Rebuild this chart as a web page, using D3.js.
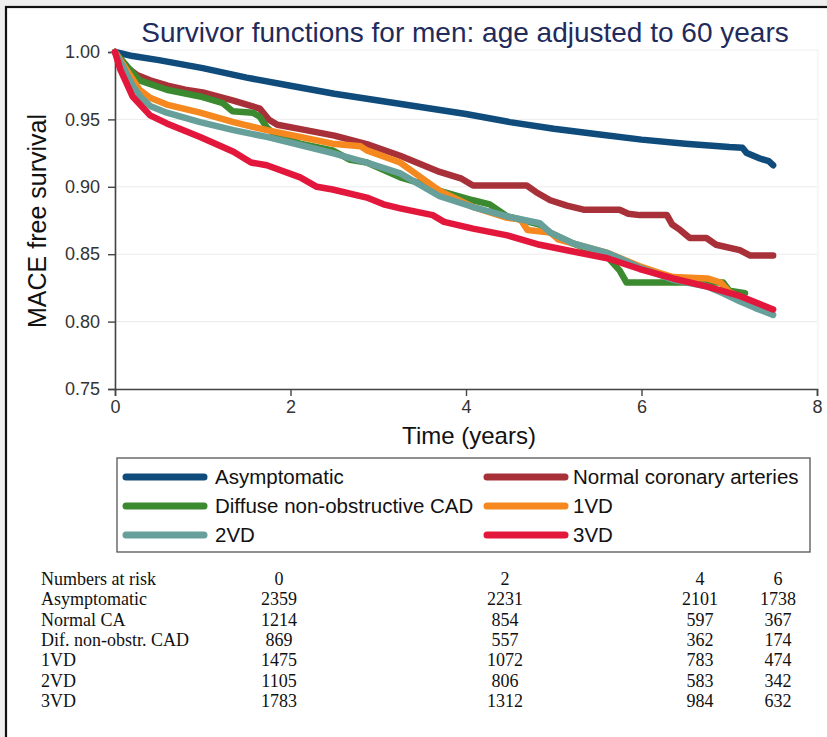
<!DOCTYPE html>
<html><head><meta charset="utf-8">
<script src="https://cdn.jsdelivr.net/npm/d3@7"></script>
<style>
html,body{margin:0;padding:0;background:#efefef;}
svg{display:block;}
</style></head>
<body>
<svg id="chart" width="827" height="737"></svg>
<script>
// ---------- DATA ----------
const title = "Survivor functions for men: age adjusted to 60 years";
const yTicks = [0.75, 0.80, 0.85, 0.90, 0.95, 1.00];
const xTicks = [0, 2, 4, 6, 8];

const seriesNames = ["Asymptomatic", "Normal coronary arteries", "Diffuse non-obstructive CAD", "1VD", "2VD", "3VD"];
const seriesColors = ["#0f4c7c", "#a83038", "#3b8a30", "#f5891f", "#67a09a", "#e3173c"];

const asymptomatic = [[0,1.0],[0.2,0.997],[0.5,0.994],[1.0,0.988],[1.5,0.981],[2.0,0.975],[2.5,0.969],[3.0,0.964],[3.5,0.959],[4.0,0.954],[4.5,0.948],[5.0,0.943],[5.5,0.939],[6.0,0.935],[6.5,0.932],[7.0,0.9295],[7.15,0.929],[7.2,0.925],[7.35,0.921],[7.45,0.919],[7.5,0.916]];
const normalCA = [[0,1.0],[0.1,0.990],[0.25,0.983],[0.4,0.979],[0.6,0.975],[0.8,0.972],[1.0,0.970],[1.35,0.964],[1.65,0.958],[1.75,0.950],[1.85,0.946],[2.1,0.943],[2.5,0.938],[2.9,0.931],[3.25,0.923],[3.7,0.911],[3.95,0.906],[4.08,0.901],[4.69,0.901],[4.8,0.896],[4.96,0.890],[5.15,0.886],[5.34,0.883],[5.75,0.883],[5.85,0.880],[5.98,0.879],[6.29,0.879],[6.35,0.872],[6.44,0.868],[6.55,0.862],[6.74,0.862],[6.85,0.857],[7.12,0.853],[7.24,0.849],[7.5,0.849]];
const diffuseCAD = [[0,1.0],[0.17,0.987],[0.28,0.979],[0.59,0.972],[0.97,0.967],[1.23,0.962],[1.34,0.956],[1.57,0.955],[1.65,0.952],[1.73,0.944],[1.8,0.940],[2.11,0.932],[2.48,0.927],[2.68,0.920],[2.87,0.918],[3.25,0.907],[3.62,0.900],[3.7,0.897],[4.08,0.890],[4.27,0.887],[4.47,0.878],[4.84,0.872],[4.96,0.866],[5.22,0.858],[5.61,0.848],[5.75,0.838],[5.83,0.829],[6.93,0.829],[7.0,0.823],[7.18,0.821]];
const oneVD = [[0,1.0],[0.1,0.990],[0.2,0.980],[0.28,0.972],[0.4,0.966],[0.59,0.961],[0.97,0.955],[1.35,0.948],[1.73,0.942],[2.11,0.937],[2.48,0.932],[2.8,0.930],[2.87,0.927],[3.25,0.918],[3.7,0.897],[4.08,0.885],[4.47,0.877],[4.62,0.876],[4.7,0.868],[4.96,0.866],[5.05,0.861],[5.61,0.851],[5.98,0.841],[6.21,0.836],[6.36,0.833],[6.75,0.832],[6.9,0.829],[7.0,0.822],[7.18,0.816]];
const twoVD = [[0,1.0],[0.1,0.988],[0.2,0.975],[0.3,0.966],[0.4,0.960],[0.59,0.955],[0.97,0.948],[1.35,0.942],[1.73,0.937],[2.11,0.931],[2.48,0.925],[2.87,0.918],[3.25,0.910],[3.7,0.893],[4.08,0.885],[4.47,0.878],[4.84,0.873],[4.96,0.866],[5.22,0.858],[5.61,0.851],[5.75,0.847],[5.98,0.840],[6.36,0.831],[6.75,0.826],[6.93,0.821],[7.12,0.815],[7.3,0.810],[7.5,0.805]];
const threeVD = [[0,1.0],[0.06,0.987],[0.2,0.967],[0.4,0.953],[0.59,0.947],[0.97,0.937],[1.35,0.926],[1.55,0.918],[1.73,0.916],[2.11,0.907],[2.3,0.900],[2.48,0.898],[2.87,0.892],[3.06,0.887],[3.25,0.884],[3.62,0.879],[3.75,0.874],[4.08,0.869],[4.47,0.864],[4.84,0.857],[5.22,0.852],[5.61,0.847],[5.98,0.839],[6.36,0.832],[6.75,0.826],[7.12,0.819],[7.5,0.809]];

const riskHeader = ["Numbers at risk", "0", "2", "4", "6"];
const riskLabels = ["Asymptomatic", "Normal CA", "Dif. non-obstr. CAD", "1VD", "2VD", "3VD"];
const riskAsymptomatic = [2359, 2231, 2101, 1738];
const riskNormalCA = [1214, 854, 597, 367];
const riskDiffuse = [869, 557, 362, 174];
const risk1VD = [1475, 1072, 783, 474];
const risk2VD = [1105, 806, 583, 342];
const risk3VD = [1783, 1312, 984, 632];

const allSeries = [asymptomatic, normalCA, diffuseCAD, oneVD, twoVD, threeVD];
const allRisk = [riskAsymptomatic, riskNormalCA, riskDiffuse, risk1VD, risk2VD, risk3VD];

// ---------- DRAW ----------
const sans = "Liberation Sans, Arial, sans-serif";
const svg = d3.select("#chart");
svg.append("rect").attr("x",6).attr("y",7).attr("width",840).attr("height",760)
  .attr("fill","#ffffff").attr("stroke","#111").attr("stroke-width",2.2);

const x = d3.scaleLinear().domain([0,8]).range([115,817]);
const y = d3.scaleLinear().domain([0.75,1.0]).range([389,52]);

// faint plot region outline
svg.append("rect").attr("x",x(0)).attr("y",y(1.0)-2).attr("width",x(8)-x(0)+1).attr("height",y(0.75)-y(1.0)+2)
  .attr("fill","none").attr("stroke","#f0f0f0").attr("stroke-width",1);

// title
svg.append("text").attr("x",465).attr("y",42).attr("text-anchor","middle")
  .attr("font-family",sans).attr("font-size",28)
  .attr("fill","#1f2b5b").text(title);

// gridlines
svg.append("g").selectAll("line").data(yTicks.filter(v=>v>0.75 && v<1.0)).join("line")
  .attr("x1",x(0)).attr("x2",x(8)).attr("y1",d=>y(d)).attr("y2",d=>y(d))
  .attr("stroke","#ebebeb").attr("stroke-width",1);

// axes
const yAxis = svg.append("g").attr("transform",`translate(${x(0)},0)`)
  .call(d3.axisLeft(y).tickValues(yTicks).tickFormat(d3.format(".2f")).tickSize(7).tickPadding(8));
const xAxis = svg.append("g").attr("transform",`translate(0,${y(0.75)})`)
  .call(d3.axisBottom(x).tickValues(xTicks).tickFormat(d3.format("d")).tickSize(7).tickPadding(4));
[yAxis,xAxis].forEach(g=>{
  g.selectAll("path").attr("stroke","#444").attr("stroke-width",1.6);
  g.selectAll("line").attr("stroke","#444").attr("stroke-width",1.4);
  g.selectAll("text").attr("font-family",sans).attr("font-size",18).attr("fill","#333");
});

// axis titles
svg.append("text").attr("transform","translate(46,221) rotate(-90)").attr("text-anchor","middle")
  .attr("font-family",sans).attr("font-size",25).attr("fill","#111")
  .text("MACE free survival");
svg.append("text").attr("x",469).attr("y",444).attr("text-anchor","middle")
  .attr("font-family",sans).attr("font-size",24).attr("fill","#111")
  .text("Time (years)");

// lines
const line = d3.line().x(d=>x(d[0])).y(d=>y(d[1])).curve(d3.curveLinear);
svg.append("g").selectAll("path").data(allSeries).join("path")
  .attr("d",line).attr("fill","none")
  .attr("stroke",(d,i)=>seriesColors[i]).attr("stroke-width",6.5)
  .attr("stroke-linejoin","round").attr("stroke-linecap","round");

// legend
const lg = svg.append("g");
lg.append("rect").attr("x",117).attr("y",458).attr("width",693).attr("height",94)
  .attr("fill","#fff").attr("stroke","#555").attr("stroke-width",1.3);
const legX = [122, 483];
const legTX = [215, 573];
const legY = [477, 506, 535];
seriesNames.forEach((n,i)=>{
  const c = i%2, r = Math.floor(i/2);
  lg.append("line").attr("x1",legX[c]+4).attr("x2",legX[c]+82).attr("y1",legY[r]).attr("y2",legY[r])
    .attr("stroke",seriesColors[i]).attr("stroke-width",7).attr("stroke-linecap","round");
  lg.append("text").attr("x",legTX[c]).attr("y",legY[r]).attr("dy","0.35em")
    .attr("font-family",sans).attr("font-size",20.5).attr("fill","#111").text(n);
});

// numbers at risk table
const colX = [279, 505, 700, 778];
const rowY0 = 585, rowDY = 20.3;
const tg = svg.append("g").attr("font-family","Liberation Serif, Times New Roman, serif").attr("font-size",18).attr("fill","#111");
tg.append("text").attr("x",41).attr("y",rowY0).text(riskHeader[0]);
riskHeader.slice(1).forEach((h,j)=>tg.append("text").attr("x",colX[j]).attr("y",rowY0).attr("text-anchor","middle").text(h));
riskLabels.forEach((lab,i)=>{
  const yy = rowY0 + rowDY*(i+1);
  tg.append("text").attr("x",41).attr("y",yy).text(lab);
  allRisk[i].forEach((v,j)=>tg.append("text").attr("x",colX[j]).attr("y",yy).attr("text-anchor","middle").text(v));
});
</script>
</body></html>
